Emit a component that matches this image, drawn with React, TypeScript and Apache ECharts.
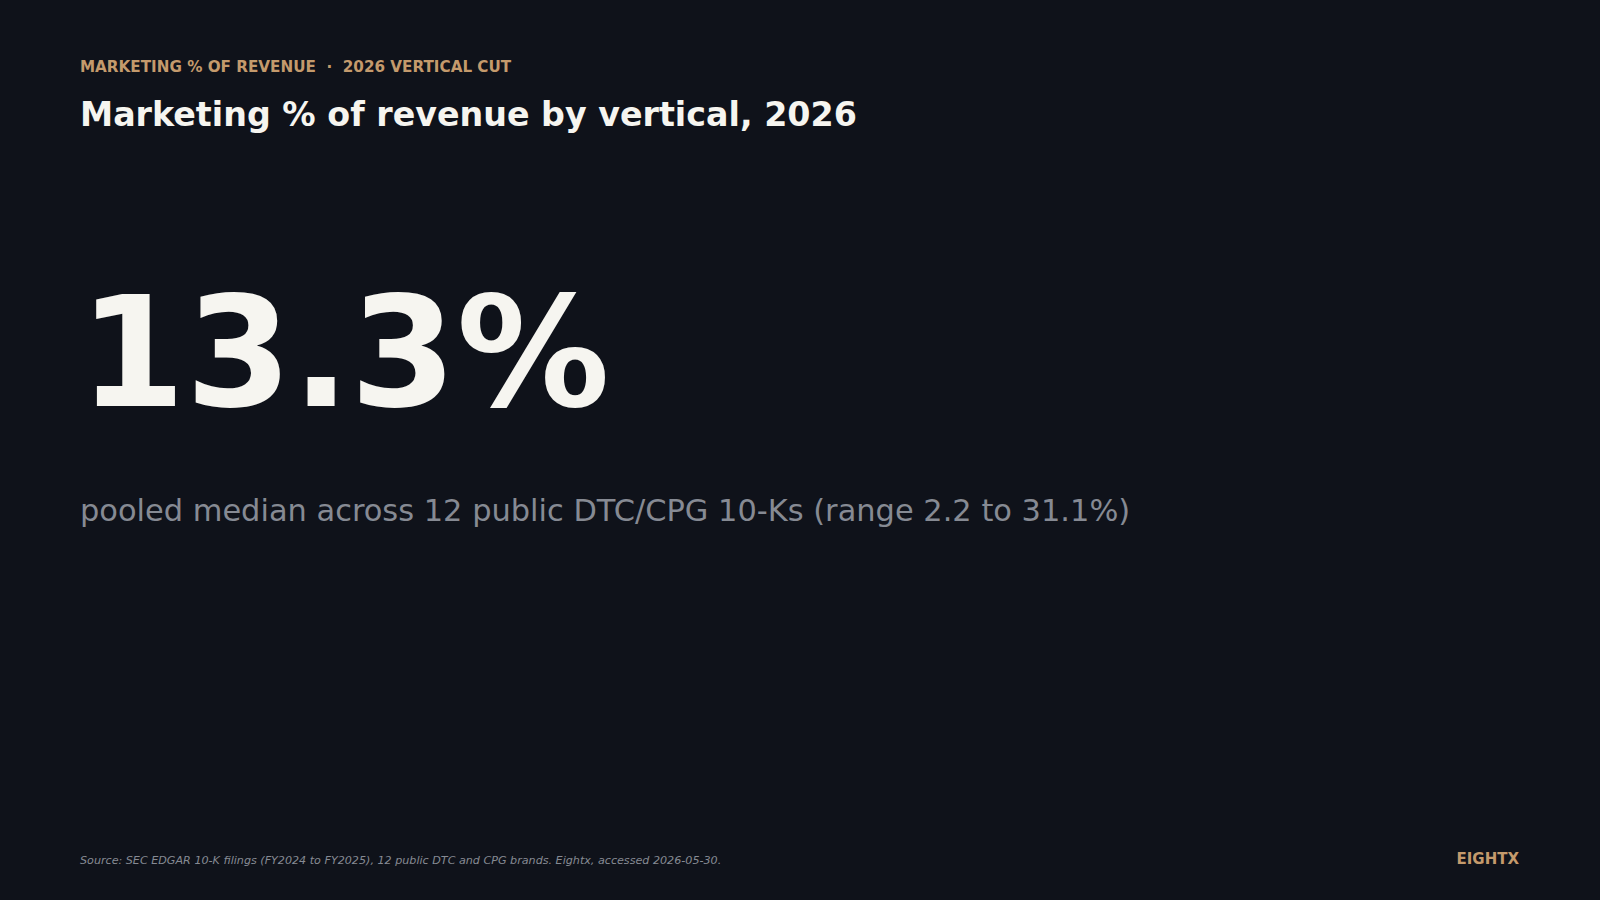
import React, { useEffect, useRef } from "react";
import * as echarts from "echarts";

const eyebrowParts = ["MARKETING % OF REVENUE", "2026 VERTICAL CUT"];
const titleText = "Marketing % of revenue by vertical, 2026";
const medianValue = 13.3;
const brandCount = 12;
const rangeLow = 2.2;
const rangeHigh = 31.1;
const sourceText =
  "Source: SEC EDGAR 10-K filings (FY2024 to FY2025), 12 public DTC and CPG brands. Eightx, accessed 2026-05-30.";
const brandText = "EIGHTX";

const BG = "#0f121a";
const TAN = "#c49a6c";
const WHITE = "#f6f5f0";
const GREY = "#868a93";
const FONT = "'DejaVu Sans', sans-serif";

export default function App() {
  const ref = useRef<HTMLDivElement>(null);
  useEffect(() => {
    if (!ref.current) return;
    const chart = echarts.init(ref.current, null, { renderer: "svg" });
    chart.setOption({
      animation: false,
      backgroundColor: BG,
      graphic: [
        {
          type: "text",
          left: 80,
          top: 59,
          style: {
            text: eyebrowParts.join("  ·  "),
            fill: TAN,
            font: `bold 15.2px ${FONT}`,
          },
        },
        {
          type: "text",
          left: 80,
          top: 98,
          style: {
            text: titleText,
            fill: WHITE,
            font: `bold 33.3px ${FONT}`,
          },
        },
        {
          type: "text",
          left: 79,
          top: 276,
          style: {
            text: `${medianValue.toFixed(1)}%`,
            fill: WHITE,
            font: `bold 153px ${FONT}`,
          },
        },
        {
          type: "text",
          left: 80,
          top: 495,
          style: {
            text: `pooled median across ${brandCount} public DTC/CPG 10-Ks (range ${rangeLow} to ${rangeHigh}%)`,
            fill: GREY,
            font: `30.45px ${FONT}`,
          },
        },
        {
          type: "text",
          left: 80,
          top: 855,
          style: {
            text: sourceText,
            fill: GREY,
            font: `italic 11.15px ${FONT}`,
          },
        },
        {
          type: "text",
          right: 81,
          top: 851,
          style: {
            text: brandText,
            fill: TAN,
            font: `bold 15px ${FONT}`,
          },
        },
      ],
    });
    return () => chart.dispose();
  }, []);
  return (
    <div
      ref={ref}
      style={{ position: "fixed", left: 0, top: 0, width: 1600, height: 900 }}
    />
  );
}
